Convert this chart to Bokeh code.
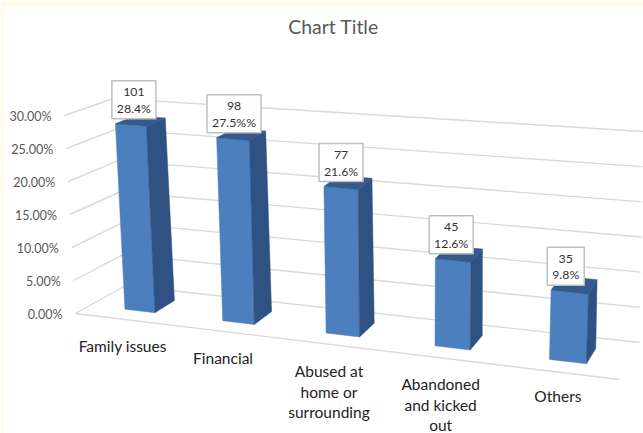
from bokeh.embed import file_html
from bokeh.resources import INLINE
from bokeh.models import Range1d
from bokeh.plotting import figure
from bokeh.core.properties import value

title = "Chart Title"
categories = [["Family issues"], ["Financial"], ["Abused at", "home or", "surrounding"],
              ["Abandoned", "and kicked", "out"], ["Others"]]
counts = ["101", "98", "77", "45", "35"]
percents = [28.4, 27.5, 21.6, 12.6, 9.8]
percent_labels = ["28.4%", "27.5%%", "21.6%", "12.6%", "9.8%"]
ticks = [0, 5, 10, 15, 20, 25, 30]
tick_labels = ["0.00%", "5.00%", "10.00%", "15.00%", "20.00%", "25.00%", "30.00%"]

# 3D box projected onto the page: corners (front/back, left/right, floor/top)
C = {("f", "l", 0): (75, 313), ("f", "l", 1): (64, 115),
     ("b", "l", 0): (125, 285), ("b", "l", 1): (113, 98),
     ("f", "r", 0): (619, 379), ("f", "r", 1): (628, 163),
     ("b", "r", 0): (639, 342), ("b", "r", 1): (643, 131)}
VMAX = 30.0
BAR_W = 0.0625
D0, D1 = 0.30, 0.72
BOX_W = [44, 54, 44, 44, 37]
BOX_DX = [3, 1, 0, -2, -4]
BOX_H = 38
LABEL_DY = [26.5, 26, 26.5, 26, 24]
GRID = "#D9D9D9"
FRONT, SIDE, TOP = "#4C7FBE", "#2F5282", "#34598C"
CREAM = "#FFFBE9"
FONT = value("Lato")


def warp(s):
    return s - 0.13 * s * (1 - s) + 0.004 * (0 < s < 1)


def P(s, d, v):
    """category fraction s, depth d (0 front .. 1 back), value v -> page pixels"""
    t, h = warp(s), v / VMAX
    out = []
    for k in (0, 1):
        val = 0
        for a, wa in (("f", 1 - d), ("b", d)):
            for b, wb in (("l", 1 - t), ("r", t)):
                for c, wc in ((0, 1 - h), (1, h)):
                    val += wa * wb * wc * C[(a, b, c)][k]
        out.append(val)
    return out


p = figure(width=643, height=433, x_range=Range1d(0, 643), y_range=Range1d(433, 0),
           output_backend="svg", toolbar_location=None, min_border=0,
           outline_line_color=None, background_fill_color="white")
p.axis.visible = False
p.grid.visible = False

# pale page edge
p.quad(left=[0, 0], right=[643, 3], top=[0, 7], bottom=[7, 433], fill_color=CREAM, line_color=None)

# gridlines: left wall and back wall
for v in ticks:
    a, b, c = P(0, 0, v), P(0, 1, v), P(1, 1, v)
    p.line([a[0], b[0], c[0]], [a[1], b[1], c[1]], line_color=GRID, line_width=1.4)
a, c = P(0, 0, 0), P(1, 0, 0)
p.line([a[0], c[0]], [a[1], c[1]], line_color=GRID, line_width=1.4)

# tick labels
tx = [P(0, 0, v)[0] - 13 for v in ticks]
ty = [P(0, 0, v)[1] + 1 for v in ticks]
p.text(tx, ty, text=tick_labels, text_align="right", text_baseline="middle",
       text_font=FONT, text_font_size="12.5px", text_color="#595959")

# bars
n = len(percents)
for i, v in enumerate(percents):
    s = (i + 0.5) / n
    l, r = s - BAR_W / 2, s + BAR_W / 2
    for pts, col in (([(l, D0, 0), (r, D0, 0), (r, D0, v), (l, D0, v)], FRONT),
                     ([(r, D0, 0), (r, D1, 0), (r, D1, v), (r, D0, v)], SIDE),
                     ([(l, D0, v), (r, D0, v), (r, D1, v), (l, D1, v)], TOP)):
        q = [P(*x) for x in pts]
        p.patch([x[0] for x in q], [x[1] for x in q], fill_color=col, line_color=col, line_width=0.5)

    # data label box
    ftl, ftr = P(l, D0, v), P(r, D0, v)
    cx = (ftl[0] + ftr[0]) / 2 + BOX_DX[i]
    bottom = ftl[1] - 5
    p.quad(left=[cx - BOX_W[i] / 2], right=[cx + BOX_W[i] / 2], bottom=[bottom], top=[bottom - BOX_H],
           fill_color="white", line_color="#BFBFBF", line_width=1.5)
    p.text([cx], [bottom - BOX_H * 0.70], text=[counts[i]], text_align="center", text_baseline="middle",
           text_font=FONT, text_font_size="12.3px", text_color="#333333")
    p.text([cx], [bottom - BOX_H * 0.27], text=[percent_labels[i]], text_align="center", text_baseline="middle",
           text_font=FONT, text_font_size="12.3px", text_color="#333333")

    # category label
    base = P(s, 0, 0)
    for j, line in enumerate(categories[i]):
        p.text([base[0] - 3], [base[1] + LABEL_DY[i] + j * 20.5], text=[line], text_align="center",
               text_baseline="middle", text_font=FONT, text_font_size="15.5px", text_color="#222222")

p.text([333], [26], text=[title], text_align="center", text_baseline="middle",
       text_font=FONT, text_font_size="19.5px", text_color="#595959")

open("out.html", "w").write(file_html(p, INLINE))
